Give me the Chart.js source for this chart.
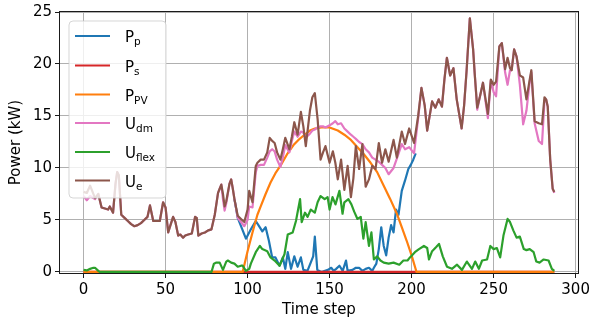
<!DOCTYPE html>
<html>
<head>
<meta charset="utf-8">
<script src="https://cdn.jsdelivr.net/npm/chart.js@4/dist/chart.umd.min.js"></script>
<style>
  html, body { margin: 0; padding: 0; background: #fff; }
  #wrap { width: 593px; height: 324px; }
</style>
</head>
<body>
<div id="wrap"><canvas id="c" width="593" height="324"></canvas></div>
<script>
// axis ticks
const xTicks = [0, 50, 100, 150, 200, 250, 300]
const yTicks = [0, 5, 10, 15, 20, 25]

// legend labels (main letter + subscript)
const seriesNames = ['P', 'P', 'P', 'U', 'U', 'U']
const seriesSubs = ['p', 's', 'PV', 'dm', 'flex', 'e']
const seriesColors = ['#1f77b4', '#d62728', '#ff7f0e', '#e377c2', '#2ca02c', '#8c564b']

// demand curves share one time grid
const demT = [
  0, 2, 4, 7, 9, 11, 13, 15, 16, 18,
  19.5, 20.5, 21.5, 23, 25, 27, 29, 31, 33, 35,
  37, 39, 40.5, 42.5, 44, 46.5, 48.5, 50, 51.6, 53,
  54.6, 56, 57.7, 59, 60.7, 62, 63.8, 66, 68, 69,
  70, 72, 74, 76, 78, 80, 82, 83, 84, 85,
  86, 87, 89, 90, 91, 92, 94, 96, 98, 100,
  101, 103, 105, 106, 108, 110, 112, 113.5, 115, 116.5,
  118, 120, 121.5, 123, 125.5, 127, 128.5, 130.5, 132.5, 134,
  135.5, 138, 139.5, 141, 142.7, 144.5, 146, 147.5, 150, 152,
  153.5, 155, 157, 159, 161, 163, 164.5, 166, 168, 170,
  172, 174, 176, 178, 180, 182, 184, 186, 189, 191,
  194, 196, 198.5, 201.5, 204, 206, 208, 209.5, 212.5, 214.5,
  216.5, 218.5, 220, 221.5, 223.5, 225.5, 227.5, 230.5, 232, 233.5,
  235.5, 237.5, 238.5, 240, 241.7, 243.5, 246.5, 248.3, 250, 251.5,
  253.5, 255, 257, 258.5, 260, 261, 262.5, 264, 266, 268,
  270, 272, 273, 275, 277.5, 279.5, 281, 282, 283, 284.5,
  286, 287
]
const ueV = [
  7.7, 7.6, 8.3, 7.1, 7.5, 6.2, 6.1, 6.0, 6.3, 5.7,
  8.5, 9.6, 9.3, 5.5, 5.2, 4.9, 4.6, 4.4, 4.5, 4.7,
  5.0, 5.3, 6.4, 4.9, 4.9, 4.9, 6.7, 6.2, 3.8, 4.5,
  5.3, 4.8, 3.5, 3.6, 3.3, 3.5, 3.6, 3.7, 5.3, 5.2,
  3.5, 3.7, 3.8, 4.0, 4.1, 5.5, 7.6, 8.0, 8.4, 7.5,
  6.3, 6.8, 8.5, 8.9, 8.0, 7.0, 5.4, 5.1, 4.8, 6.0,
  7.8, 6.7, 10.2, 10.5, 10.8, 10.8, 11.5, 12.9, 12.6, 12.4,
  11.5, 10.8, 11.8, 12.9, 11.8, 13.0, 14.4, 13.2, 15.4, 14.0,
  12.1, 15.5, 16.8, 17.2, 14.7, 10.8, 11.5, 12.1, 10.5, 11.6,
  10.5, 8.9, 10.8, 7.9, 10.2, 7.2, 9.0, 12.1, 9.9, 12.3,
  8.2, 8.9, 10.2, 9.9, 12.4, 10.5, 11.8, 10.6, 12.7, 11.0,
  13.5, 12.3, 13.8, 12.4, 15.0, 17.7, 16.0, 13.6, 16.4, 15.8,
  16.6, 15.9, 18.5, 20.6, 18.9, 19.6, 16.6, 13.8, 16.0, 19.3,
  24.4, 21.4, 19.0, 15.8, 16.9, 18.2, 15.2, 18.5, 18.0, 18.3,
  21.7, 22.0, 19.5, 20.6, 19.6, 19.4, 21.4, 20.7, 18.9, 18.7,
  16.6, 18.5, 19.4, 14.5, 14.3, 14.2, 16.8, 16.6, 15.9, 10.8,
  8.0, 7.7
]
const udmV = [
  7.3, 6.9, 7.3, 7.0, 7.5, 6.2, 6.1, 6.0, 6.3, 5.7,
  8.5, 9.6, 9.3, 5.5, 5.2, 4.9, 4.6, 4.4, 4.5, 4.7,
  5.0, 5.3, 6.4, 4.9, 4.9, 4.9, 6.7, 6.2, 3.8, 4.5,
  5.3, 4.8, 3.5, 3.6, 3.3, 3.5, 3.6, 3.7, 5.3, 5.2,
  3.5, 3.7, 3.8, 4.0, 4.1, 5.5, 7.6, 8.0, 8.4, 7.0,
  5.9, 6.6, 8.5, 8.9, 8.0, 7.0, 5.2, 4.8, 4.4, 5.0,
  6.3, 6.2, 9.6, 10.2, 10.3, 10.3, 11.0, 11.6, 11.8, 11.6,
  10.8, 10.1, 11.0, 12.2, 11.5, 12.6, 13.5, 13.0, 13.5, 13.4,
  12.9, 13.3, 13.6, 13.7, 13.9, 14.0, 14.0, 13.9, 14.1, 14.3,
  14.5, 14.2, 14.3, 13.8, 13.5, 13.2, 13.0, 12.8, 12.5, 12.3,
  11.8, 11.5, 11.0, 10.8, 10.6, 10.3, 10.0, 9.4, 10.0, 10.9,
  12.3, 11.8, 12.0, 11.4, 14.8, 17.7, 16.0, 13.6, 16.4, 15.8,
  16.6, 15.9, 18.5, 20.6, 18.9, 19.6, 16.6, 13.8, 16.0, 19.3,
  24.4, 21.4, 19.0, 15.6, 16.9, 18.2, 14.8, 18.4, 17.3, 16.9,
  21.7, 22.0, 19.2, 18.0, 19.4, 19.4, 21.4, 20.7, 18.0, 14.2,
  15.5, 18.3, 19.2, 14.3, 12.6, 12.3, 16.5, 16.6, 15.9, 10.8,
  8.0, 7.6
]

const ppT = [92, 94, 96, 99, 102, 105, 107, 109, 111, 113,
  115, 117, 119.5, 121.5, 123, 124.5, 126.5, 128.5, 130.5, 132.5,
  134, 136.5, 138.5, 140, 141, 142.5, 145, 149, 151, 152.5,
  154, 156, 158, 160, 161, 164, 166, 168, 170, 172,
  174, 176, 177, 178.5, 180, 181.5, 183, 184.5, 186, 187.5,
  189, 190.5, 192, 194, 196, 198, 199.5, 201, 202.5]
const ppV = [7.0, 5.2, 4.4, 3.2, 4.1, 4.9, 4.4, 3.9, 4.3, 3.0,
  1.4, 1.4, 0.6, 1.4, 0.3, 1.9, 0.3, 1.5, 0.5, 1.4,
  0.2, 0.1, 0.9, 1.5, 3.4, 0.2, 0.0, 0.2, 0.4, 0.1,
  0.3, 0.6, 0.1, 1.1, 0.1, 0.2, 0.4, 0.4, 0.1, 0.3,
  0.4, 0.1, 0.4, 0.8, 2.2, 4.3, 2.5, 1.6, 3.3, 4.5,
  3.8, 6.0, 5.5, 7.8, 8.8, 9.9, 10.3, 10.8, 11.4]

const psT = [0, 287]
const psV = [0, 0]

const pvT = [0, 97, 100, 103, 106, 108, 111, 114, 117, 120,
  124, 128, 131, 134, 138, 141, 145, 150, 155, 159,
  163, 167, 171, 175, 179, 183, 187, 191, 194, 197,
  200, 203, 287]
const pvV = [0, 0, 2.0, 3.8, 5.5, 6.3, 7.5, 8.6, 9.5, 10.2,
  11.3, 12.2, 12.7, 13.1, 13.6, 13.8, 13.9, 13.9, 13.6, 13.2,
  12.7, 12.0, 11.3, 10.5, 9.6, 8.3, 7.0, 5.6, 4.3, 3.0,
  1.6, 0, 0]

const flexT = [0, 2, 4, 6, 7, 9, 10, 78, 79.5, 81,
  83, 85, 87, 88, 90, 92, 94, 96, 97, 99,
  101, 102, 105, 107.5, 109, 112, 114, 116.5, 119.5, 122.5,
  124.5, 127.5, 129.5, 132, 133, 135, 136.6, 138.5, 141, 142.7,
  144.5, 147, 148.8, 150, 151.8, 153.6, 156, 157.9, 159, 161.5,
  163.3, 165, 167, 169, 170.6, 172, 174, 175.5, 177, 179,
  181, 183, 186, 189, 192.5, 195, 197.5, 199, 202, 204.5,
  207.5, 209.5, 210.6, 212.5, 215, 216.7, 219, 221.6, 224.6, 227.7,
  230.7, 233.7, 236.8, 238.8, 241, 243, 246, 248, 250, 252,
  254, 256, 258.5, 260, 262, 264, 266, 268.4, 270, 272,
  274.4, 276, 278, 280.5, 283.5, 285.5, 287]
const flexV = [0.2, 0.15, 0.3, 0.4, 0.4, 0.1, 0, 0, 0.8, 0.9,
  0.9, 0.2, 1.0, 1.1, 0.9, 0.8, 0.5, 0.6, 0.6, 0.1,
  0.3, 0.8, 1.9, 2.5, 2.2, 2.0, 1.4, 1.1, 0.6, 1.7,
  3.6, 3.8, 4.9, 7.0, 4.8, 5.7, 5.3, 6.0, 5.7, 6.7,
  7.3, 7.0, 7.2, 6.0, 7.2, 6.5, 7.8, 5.6, 6.7, 7.0,
  6.5, 5.8, 5.1, 5.3, 3.2, 4.8, 2.5, 3.8, 1.2, 1.5,
  1.1, 0.9, 0.8, 0.9, 0.7, 1.1, 1.1, 1.4, 1.9, 2.2,
  2.5, 2.3, 1.2, 2.0, 2.4, 2.7, 1.5, 0.5, 0.3, 0.7,
  0.2, 1.0, 0.3, 1.0, 0.3, 1.1, 1.2, 2.5, 2.2, 2.3,
  1.4, 3.5, 5.1, 4.8, 4.0, 3.3, 3.4, 2.2, 2.1, 2.2,
  1.9, 1.0, 0.9, 1.2, 1.1, 0.3, 0.1]

const FONT = 'DejaVu Sans'

function pts(ts, vs) {
  return ts.map((t, i) => ({x: t, y: vs[i]}))
}

// later series are drawn on top, as in the original plot
const seriesData = [
  pts(ppT, ppV), pts(psT, psV), pts(pvT, pvV),
  pts(demT, udmV), pts(flexT, flexV), pts(demT, ueV)
]

const datasets = seriesData.map((d, i) => ({
  label: seriesNames[i] + seriesSubs[i],
  data: d,
  borderColor: seriesColors[i],
  backgroundColor: seriesColors[i],
  borderWidth: 2.2,
  pointRadius: 0,
  tension: 0,
  fill: false,
  clip: false,
  borderJoinStyle: 'round',
  order: seriesData.length - i
}))

const framePlugin = {
  id: 'frame',
  afterDraw(chart) {
    const ctx = chart.ctx
    const a = chart.chartArea
    const l = Math.round(a.left), r0 = Math.round(a.right)
    const t = Math.round(a.top), b = Math.round(a.bottom)
    ctx.save()
    // spines sit just outside the plotting area
    ctx.strokeStyle = '#1a1a1a'
    ctx.lineWidth = 1
    ctx.strokeRect(l - 0.5, t - 0.5, r0 - l + 1, b - t + 1)

    // axis titles
    ctx.fillStyle = '#000'
    ctx.font = '15px "' + FONT + '"'
    ctx.textAlign = 'center'
    ctx.textBaseline = 'middle'
    ctx.fillText('Time step', (a.left + a.right) / 2, 310)
    ctx.translate(16, (a.top + a.bottom) / 2)
    ctx.rotate(-Math.PI / 2)
    ctx.fillText('Power (kW)', 0, 0)
    ctx.restore()

    // legend box
    ctx.save()
    const bx = 69, by = 21, bw = 97, bh = 177, r = 4
    ctx.beginPath()
    ctx.moveTo(bx + r, by)
    ctx.arcTo(bx + bw, by, bx + bw, by + bh, r)
    ctx.arcTo(bx + bw, by + bh, bx, by + bh, r)
    ctx.arcTo(bx, by + bh, bx, by, r)
    ctx.arcTo(bx, by, bx + bw, by, r)
    ctx.closePath()
    ctx.fillStyle = 'rgba(255,255,255,0.8)'
    ctx.fill()
    ctx.strokeStyle = 'rgba(204,204,204,0.8)'
    ctx.lineWidth = 1
    ctx.stroke()

    const rowY = [36, 65.5, 94.5, 123, 152, 180.5]
    seriesNames.forEach((name, i) => {
      const y = rowY[i]
      ctx.strokeStyle = seriesColors[i]
      ctx.lineWidth = 2.2
      ctx.beginPath()
      ctx.moveTo(75, y)
      ctx.lineTo(110, y)
      ctx.stroke()

      ctx.fillStyle = '#000'
      ctx.textAlign = 'left'
      ctx.textBaseline = 'alphabetic'
      ctx.font = '15px "' + FONT + '"'
      ctx.fillText(name, 125, y + 6)
      const w = ctx.measureText(name).width
      ctx.font = '10.5px "' + FONT + '"'
      ctx.fillText(seriesSubs[i], 125 + w, y + 9)
    })
    ctx.restore()
  }
}

class PowerChart {
  constructor(ctx) {
    this.ctx = ctx
  }

  plot() {
    const tickFont = {family: FONT, size: 15}
    this.chartObject = new Chart(this.ctx, {
      type: 'line',
      data: {datasets: datasets},
      options: {
        responsive: false,
        animation: false,
        devicePixelRatio: 1,
        layout: {padding: {top: 12, right: 12, left: 0, bottom: 0}},
        plugins: {legend: {display: false}, tooltip: {enabled: false}},
        scales: {
          x: {
            type: 'linear',
            min: -14.35,
            max: 301.35,
            afterBuildTicks: s => { s.ticks = xTicks.map(v => ({value: v})) },
            afterFit: s => { s.height = 51 },
            border: {display: false},
            grid: {color: '#b0b0b0', lineWidth: 1, tickColor: '#1a1a1a', tickLength: 5},
            ticks: {font: tickFont, color: '#000', padding: 3, maxRotation: 0, autoSkip: false}
          },
          y: {
            type: 'linear',
            // a hair below zero so the zero-valued lines show above the spine
            min: -0.1,
            max: 25,
            afterBuildTicks: s => { s.ticks = yTicks.map(v => ({value: v})) },
            afterFit: s => { s.width = 60 },
            border: {display: false},
            grid: {color: '#b0b0b0', lineWidth: 1, tickColor: '#1a1a1a', tickLength: 5},
            ticks: {font: tickFont, color: '#000', padding: 3}
          }
        }
      },
      plugins: [framePlugin]
    })
    return this.chartObject
  }
}

new PowerChart(document.getElementById('c').getContext('2d')).plot()
</script>
</body>
</html>
